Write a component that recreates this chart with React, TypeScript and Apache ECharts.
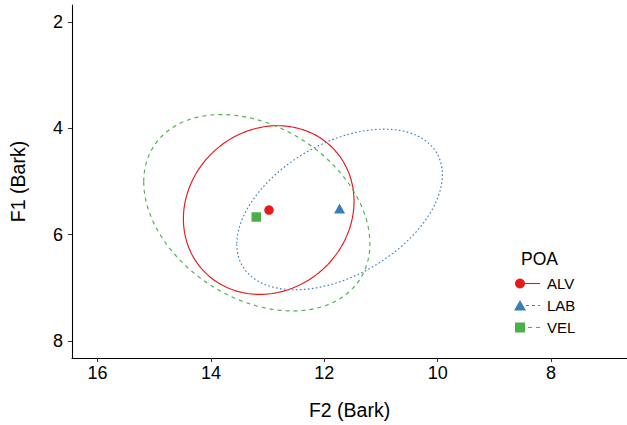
import React, { useEffect, useRef } from "react";
import * as echarts from "echarts";

// Groups (POA)
const groups = ["ALV", "LAB", "VEL"];
const colors = ["#E41A1C", "#377EB8", "#4DAF4A"];
// Group means (F2, F1 in Bark)
const meanF2 = [12.975, 11.73, 13.2];
const meanF1 = [5.537, 5.507, 5.668];
// Ellipse parameters
const ellCenterF2 = [12.98, 11.73, 13.19];
const ellCenterF1 = [5.537, 5.526, 5.588];
const ellHalfWidthF2 = [1.505, 1.813, 1.995];
const ellHalfHeightF1 = [1.586, 1.511, 1.847];
const ellCorr = [0.104, 0.433, -0.315];
// Ticks
const xTicks = [8, 10, 12, 14, 16];
const yTicks = [2, 4, 6, 8];

const FONT = "'Liberation Sans', Arial, Helvetica, sans-serif";
const dashes: (number[] | null)[] = [null, [1.6, 2.4], [4, 4]];
const legendDashes: (number[] | null)[] = [null, [3, 3], [4, 4]];
const symbols = ["circle", "triangle", "rect"];
const symbolSizes: any[] = [9.5, [11, 10], 9.5];

export default function App() {
  const ref = useRef<HTMLDivElement>(null);
  useEffect(() => {
    if (!ref.current) return;
    const chart = echarts.init(ref.current, null, { renderer: "svg" });

    const ellipseSeries = groups.map((g, i) => ({
      type: "custom",
      name: g + "-ellipse",
      silent: true,
      dimensions: ["x", "y", "sx", "sy", "r"],
      encode: { x: 0, y: 1 },
      data: [[ellCenterF2[i], ellCenterF1[i], ellHalfWidthF2[i], ellHalfHeightF1[i], ellCorr[i]]],
      renderItem: (params: any, api: any) => {
        const cx = api.value(0);
        const cy = api.value(1);
        const sx = api.value(2);
        const sy = api.value(3);
        const r = api.value(4);
        const pts: number[][] = [];
        const n = 180;
        for (let k = 0; k <= n; k++) {
          const t = (2 * Math.PI * k) / n;
          const x = cx + sx * Math.cos(t);
          const y = cy + sy * (r * Math.cos(t) + Math.sqrt(1 - r * r) * Math.sin(t));
          pts.push(api.coord([x, y]));
        }
        return {
          type: "polyline",
          shape: { points: pts },
          style: {
            fill: "none",
            stroke: colors[i],
            lineWidth: 1.15,
            lineDash: dashes[i] || undefined,
          },
        };
      },
      z: 2,
    }));

    const pointSeries = groups.map((g, i) => ({
      type: "scatter",
      name: g,
      data: [[meanF2[i], meanF1[i]]],
      symbol: symbols[i],
      symbolSize: symbolSizes[i],
      itemStyle: { color: colors[i], opacity: 1 },
      z: 3,
    }));

    // legend (drawn as graphics)
    const legX = 520;
    const legY0 = 283.5;
    const legStep = 22;
    const legendEls: any[] = [
      {
        type: "text",
        left: 521,
        top: 250,
        style: { text: "POA", font: `17.5px ${FONT}`, fill: "#000" },
      },
    ];
    groups.forEach((g, i) => {
      const y = legY0 + i * legStep;
      legendEls.push({
        type: "line",
        shape: { x1: legX, y1: y, x2: 540, y2: y },
        style: { stroke: colors[i], lineWidth: 1.1, lineDash: legendDashes[i] || undefined },
      });
      if (i === 0) {
        legendEls.push({ type: "circle", shape: { cx: legX, cy: y, r: 5 }, style: { fill: colors[i] } });
      } else if (i === 1) {
        legendEls.push({
          type: "polygon",
          shape: { points: [[legX - 6, y + 5], [legX + 6, y + 5], [legX, y - 5.5]] },
          style: { fill: colors[i] },
        });
      } else {
        legendEls.push({ type: "rect", shape: { x: legX - 5, y: y - 5, width: 10, height: 10 }, style: { fill: colors[i] } });
      }
      legendEls.push({
        type: "text",
        x: 547,
        y: y,
        style: { text: g, font: `15px ${FONT}`, fill: "#000", verticalAlign: "middle", textVerticalAlign: "middle" },
      });
    });

    chart.setOption({
      animation: false,
      backgroundColor: "#fff",
      textStyle: { fontFamily: FONT },
      grid: { left: 71, right: 0, top: 5, bottom: 64, containLabel: false },
      xAxis: {
        type: "value",
        inverse: true,
        min: 6.66,
        max: 16.45,
        name: "F2 (Bark)",
        nameLocation: "middle",
        nameGap: 42,
        nameTextStyle: { fontSize: 19.5, color: "#000", fontFamily: FONT },
        axisLine: { show: true, onZero: false, lineStyle: { color: "#000", width: 1.07 } },
        axisTick: { show: true, length: 4, customValues: xTicks, lineStyle: { color: "#333" } },
        axisLabel: { customValues: xTicks, fontSize: 18, color: "#000", margin: 6, fontFamily: FONT },
        splitLine: { show: false },
      },
      yAxis: {
        type: "value",
        inverse: true,
        min: 1.68,
        max: 8.32,
        name: "F1 (Bark)",
        nameLocation: "middle",
        nameGap: 44,
        nameRotate: 90,
        nameTextStyle: { fontSize: 19.5, color: "#000", fontFamily: FONT },
        axisLine: { show: true, onZero: false, lineStyle: { color: "#000", width: 1.07 } },
        axisTick: { show: true, length: 4, customValues: yTicks, lineStyle: { color: "#333" } },
        axisLabel: { customValues: yTicks, fontSize: 18, color: "#000", margin: 9, fontFamily: FONT },
        splitLine: { show: false },
      },
      graphic: legendEls,
      series: [...ellipseSeries, ...pointSeries],
    });
    return () => chart.dispose();
  }, []);
  return (
    <div
      ref={ref}
      style={{ position: "absolute", left: 0, top: 0, width: 627, height: 425, background: "#fff" }}
    />
  );
}
